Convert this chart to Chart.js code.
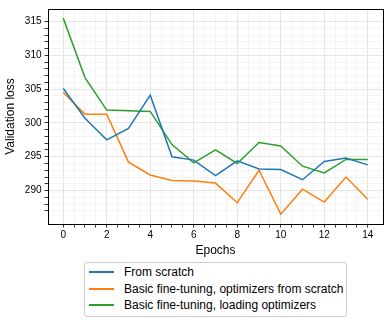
<!DOCTYPE html>
<html>
<head>
<meta charset="utf-8">
<script src="https://cdn.jsdelivr.net/npm/chart.js@4/dist/chart.umd.min.js"></script>
<style>
  body { margin: 0; background: #fff; }
  #wrap { position: relative; width: 390px; height: 323px; font-family: "Liberation Sans", Arial, sans-serif; }
  #legend {
    position: absolute; left: 84px; top: 262px; width: 261px; height: 52px;
    border: 1px solid #cccccc; border-radius: 3px; background: #fff;
    font-size: 12px; color: #000; padding-top: 1px; box-sizing: content-box;
  }
  .row { height: 16.5px; display: flex; align-items: center; white-space: nowrap; }
  .swatch { width: 25px; height: 1.6px; margin-left: 3.5px; margin-right: 10.5px; }
</style>
</head>
<body>
<div id="wrap">
  <canvas id="chart-canvas" width="390" height="258"></canvas>
  <div id="legend"></div>
</div>
<script>
const epochs = [0, 1, 2, 3, 4, 5, 6, 7, 8, 9, 10, 11, 12, 13, 14];
const fromScratch = [305.1, 300.7, 297.5, 299.2, 304.1, 295.0, 294.5, 292.2, 294.4, 293.2, 293.1, 291.6, 294.3, 294.8, 293.8];
const fineTuneOptScratch = [304.5, 301.3, 301.3, 294.2, 292.3, 291.5, 291.4, 291.1, 288.2, 293.0, 286.5, 290.2, 288.3, 292.0, 288.7];
const fineTuneLoadOpt = [315.5, 306.7, 301.9, 301.8, 301.7, 296.8, 294.1, 296.0, 294.0, 297.1, 296.6, 293.6, 292.6, 294.6, 294.6];
const seriesNames = ['From scratch', 'Basic fine-tuning, optimizers from scratch', 'Basic fine-tuning, loading optimizers'];
const seriesColors = ['#1f77b4', '#ff7f0e', '#2ca02c'];
const xTickLabels = ['0', '2', '4', '6', '8', '10', '12', '14'];
const yTickLabels = ['290', '295', '300', '305', '310', '315'];

const FONT = '"Liberation Sans", Arial, sans-serif';

function toPoints(values) {
    return values.map((v, i) => ({ x: epochs[i], y: v }));
}

function isStep(v, step) {
    return Math.abs(v / step - Math.round(v / step)) < 1e-6;
}

// black box round the plot area, like the matplotlib spines
const frame = {
    id: 'frame',
    afterDraw(chart) {
        const { ctx, chartArea: a } = chart;
        ctx.save();
        ctx.strokeStyle = '#000';
        ctx.lineWidth = 1;
        ctx.strokeRect(Math.round(a.left) + 0.5, Math.round(a.top) + 0.5,
            Math.round(a.right - a.left), Math.round(a.bottom - a.top));
        ctx.restore();
    }
};

function init() {
    Chart.defaults.color = '#000';
    Chart.defaults.font.family = FONT;
    Chart.defaults.font.size = 10;

    const datasets = [fromScratch, fineTuneOptScratch, fineTuneLoadOpt].map((vals, i) => ({
        label: seriesNames[i],
        data: toPoints(vals),
        borderColor: seriesColors[i],
        backgroundColor: seriesColors[i],
        borderWidth: 1.5,
        pointRadius: 0,
        tension: 0
    }));

    new Chart(document.getElementById('chart-canvas').getContext('2d'), {
        type: 'line',
        data: { datasets: datasets },
        options: {
            responsive: false,
            animation: false,
            layout: { padding: { top: 7, right: 7, left: 0, bottom: 0 } },
            plugins: { legend: { display: false }, tooltip: { enabled: false } },
            scales: {
                x: {
                    type: 'linear',
                    min: -0.7,
                    max: 14.7,
                    afterFit: s => { s.height = 34; },
                    ticks: {
                        stepSize: 0.5,
                        autoSkip: false,
                        maxRotation: 0,
                        padding: 2,
                        callback: v => xTickLabels.includes(String(v)) ? String(v) : ''
                    },
                    grid: {
                        color: c => !isStep(c.tick.value, 0.5) ? 'rgba(0,0,0,0)' : (isStep(c.tick.value, 2) ? '#dedede' : '#f1f1f1'),
                        lineWidth: 0.8,
                        tickColor: c => isStep(c.tick.value, 0.5) ? '#000' : 'rgba(0,0,0,0)',
                        tickWidth: 0.8,
                        tickLength: 3.5
                    },
                    border: { color: '#000', width: 1 },
                    title: { display: true, text: 'Epochs', font: { size: 12 }, padding: { top: 2, bottom: 0 } }
                },
                y: {
                    min: 285.05,
                    max: 316.85,
                    afterFit: s => { s.width = 48; },
                    ticks: {
                        stepSize: 1,
                        autoSkip: false,
                        padding: 3,
                        callback: v => yTickLabels.includes(String(v)) ? String(v) : ''
                    },
                    grid: {
                        color: c => !isStep(c.tick.value, 1) ? 'rgba(0,0,0,0)' : (isStep(c.tick.value, 5) ? '#dedede' : '#f1f1f1'),
                        lineWidth: 0.8,
                        tickColor: c => isStep(c.tick.value, 1) ? '#000' : 'rgba(0,0,0,0)',
                        tickWidth: 0.8,
                        tickLength: 3.5
                    },
                    border: { color: '#000', width: 1 },
                    title: { display: true, text: 'Validation loss', font: { size: 12 }, padding: { top: 3, bottom: 0 } }
                }
            }
        },
        plugins: [frame]
    });

    const legend = document.getElementById('legend');
    seriesNames.forEach((name, i) => {
        const row = document.createElement('div');
        row.className = 'row';
        const sw = document.createElement('span');
        sw.className = 'swatch';
        sw.style.background = seriesColors[i];
        const txt = document.createElement('span');
        txt.textContent = name;
        row.appendChild(sw);
        row.appendChild(txt);
        legend.appendChild(row);
    });
}

document.addEventListener('DOMContentLoaded', init);
</script>
</body>
</html>
